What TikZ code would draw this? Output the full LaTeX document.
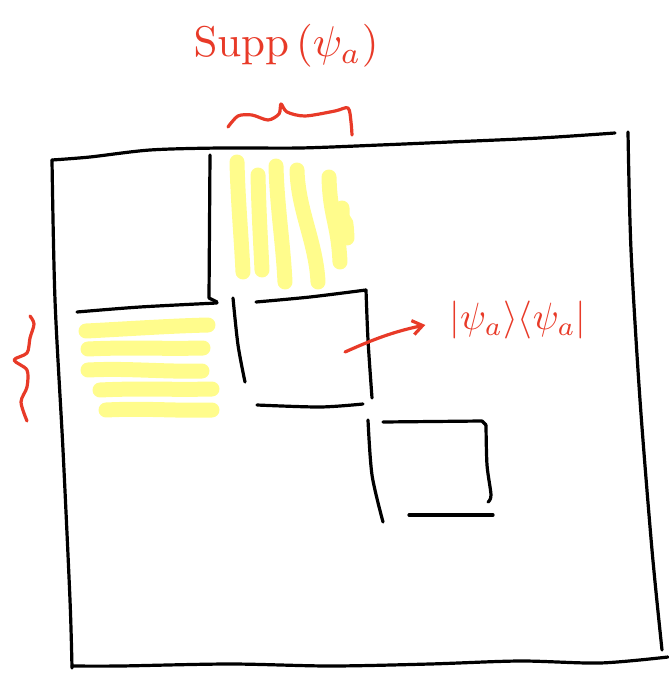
\documentclass[tikz,border=0pt]{standalone}
\usepackage{amsmath,amssymb}
\usepackage{tikz}
\usepackage{xcolor}
\usetikzlibrary{arrows.meta,calc,positioning}
\definecolor{inkred}{RGB}{232,58,40}
\definecolor{hlyellow}{RGB}{255,252,140}
\tikzset{
  every picture/.append style={line cap=round,line join=round},
  ink black/.style={black,line width=3.2pt},
  ink red/.style={inkred,line width=3.2pt},
  ink hl/.style={hlyellow,line width=15pt},
  ink arrow/.style={inkred,line width=3.2pt,-{Straight Barb[length=3.5mm,width=5mm]}},
  ink note/.style={text=inkred,inner sep=0pt}
}

\begin{document}
\begin{tikzpicture}[x=1pt,y=-1pt]
  \useasboundingbox (0,0) rectangle (669,680);

  % highlighted support, vertical strokes
  \foreach \xa/\ya/\xb/\yb in {237/162/243/272, 258/175/262/270, 276/166/285/282,
                               297/170/318/282, 329/177/340/262, 342/208/347/238} {
    \draw[ink hl] (\xa,\ya) .. controls ({\xa+1},{\ya+40}) and ({\xb-2},{\yb-40}) .. (\xb,\yb);
  }
  % highlighted support, horizontal strokes
  \foreach \xa/\ya/\xb/\yb in {86/331/208/325, 88/349/203/348, 88/370/202/371,
                               100/390/212/389, 106/410/212/410} {
    \draw[ink hl] (\xa,\ya) .. controls ({\xa+40},{\ya-2}) and ({\xb-40},{\yb+1}) .. (\xb,\yb);
  }

  % outer matrix
  \draw[ink black] plot[smooth] coordinates {(52,160) (90,157) (150,150) (220,148)
    (300,148) (380,145) (450,142) (540,138) (615,133)};
  \draw[ink black] plot[smooth] coordinates {(628,132) (631,250) (640,400) (652,550) (662,650)};
  \draw[ink black] plot[smooth] coordinates {(52,160) (55,300) (63,450) (70,600) (72,668)};
  \draw[ink black] plot[smooth] coordinates {(72,666) (120,666) (230,664) (330,666)
    (430,664) (520,661) (600,663) (668,657)};

  % first block
  \draw[ink black] (210,155) -- (209,298) -- (217,302);
  \draw[ink black] plot[smooth] coordinates {(77,312) (140,307) (217,303)};

  % second block
  \draw[ink black] plot[smooth] coordinates {(233,298) (238,345) (245,382)};
  \draw[ink black] plot[smooth] coordinates {(256,302) (310,297) (366,290)};
  \draw[ink black] plot[smooth] coordinates {(366,290) (368,340) (372,398)};
  \draw[ink black] plot[smooth] coordinates {(257,405) (320,407) (363,404)};

  % third block
  \draw[ink black] plot[smooth] coordinates {(368,420) (372,475) (383,522)};
  \draw[ink black] (383,422) -- (482,421) -- (486,425);
  \draw[ink black] plot[smooth] coordinates {(486,425) (487,465) (491,495) (488,502)};
  \draw[ink black] (409,515) -- (493,515);

  % braces
  \draw[ink red] plot[smooth] coordinates {(228,127) (238,116) (252,115) (268,120)
    (279,114) (281,104) (287,112) (305,116) (335,111) (348,108) (351,122) (352,135)};
  \draw[ink red] plot[smooth] coordinates {(30,316) (34,324) (30,338) (27,353)
    (14,360) (27,370) (27,387) (21,402) (27,421)};

  % labels
  \node[ink note,scale=4.3] (supp) at (286,46) {$\mathrm{Supp}\,(\psi_a)$};
  \node[ink note,scale=3.8] (proj) at (518,320) {$|\psi_a\rangle\langle\psi_a|$};
  \coordinate (tail) at (345,352);
  \draw[ink arrow,shorten >=24pt] (tail) .. controls (372,340) and (392,332) .. (proj.west);
\end{tikzpicture}
\end{document}
